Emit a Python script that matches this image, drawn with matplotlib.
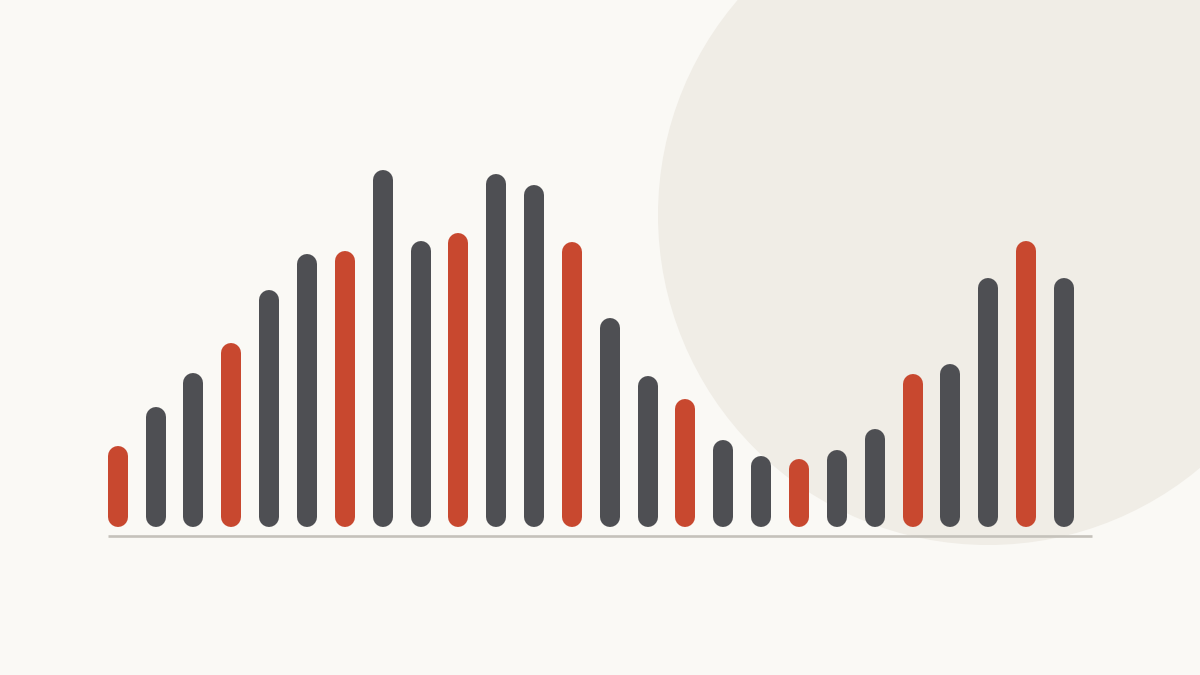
import numpy as np
import matplotlib
matplotlib.use("Agg")
import matplotlib.pyplot as plt
from matplotlib.patches import Circle

# bar heights, every third bar is highlighted
values = [81, 120, 154, 184, 237, 273, 276, 357, 286, 294, 353, 342, 285,
          209, 151, 128, 87, 71, 68, 77, 98, 153, 163, 249, 286, 249]
highlight = [i % 3 == 0 for i in range(len(values))]

BG = "#FAF9F5"
CIRCLE = "#F0EDE6"
RED = "#C8482F"
GREY = "#4E4F53"
BASE = "#C5C2BB"

W, H, DPI = 1200, 675, 100
fig = plt.figure(figsize=(W / DPI, H / DPI), dpi=DPI, facecolor=BG)

# background layer in pixel coords for the decorative circle
bg = fig.add_axes([0, 0, 1, 1])
bg.set_xlim(0, W)
bg.set_ylim(H, 0)
bg.set_facecolor(BG)
bg.axis("off")
bg.add_patch(Circle((988, 215), 330, color=CIRCLE, lw=0))

# bars: one x unit per category, one y unit per pixel
step = 37.85
x0 = 117.7
ax = fig.add_axes([0, 0, 1, 1])
ax.patch.set_alpha(0)
ax.set_xlim(-x0 / step, (W - x0) / step)
ax.set_ylim(-(H - 526.7), 526.7)
ax.axis("off")

n = len(values)
x = np.arange(n)
r = 10  # cap radius in px (= y units)
lw = 20 * 72 / DPI
for xi, v, hl in zip(x, values, highlight):
    ax.plot([xi, xi], [r, v - r], color=RED if hl else GREY, lw=lw,
            solid_capstyle="round")

ax.plot([-0.26, n - 1 + 0.74], [-9.5, -9.5], color=BASE, lw=1.9,
        solid_capstyle="butt")

fig.savefig("out.png", dpi=DPI, facecolor=BG)
